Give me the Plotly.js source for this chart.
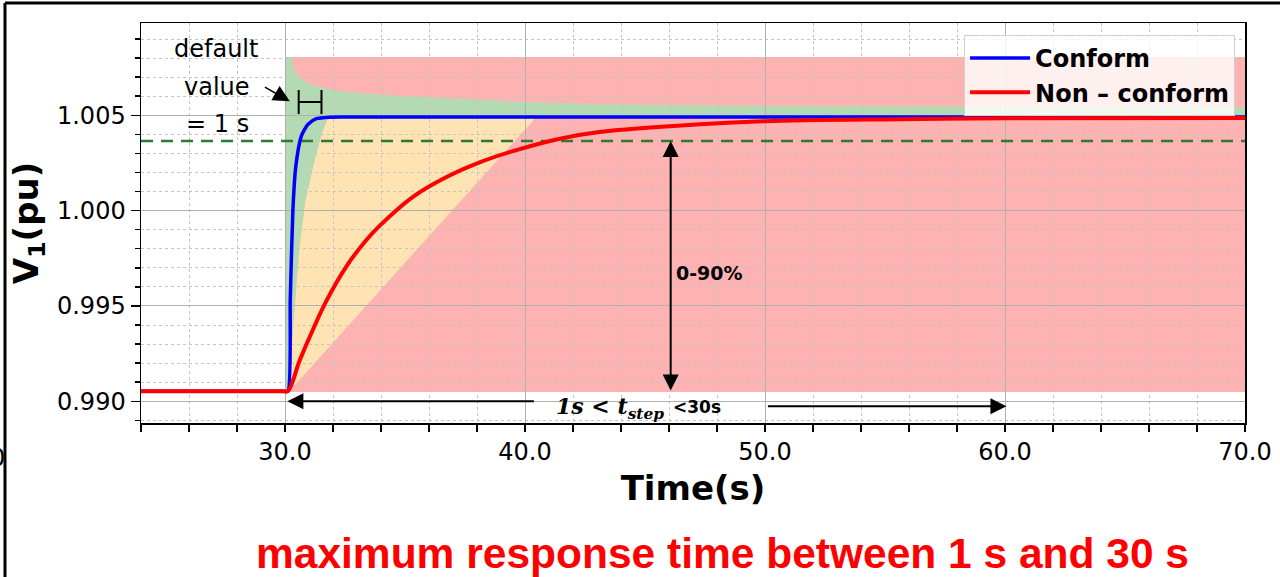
<!DOCTYPE html>
<html><head><meta charset="utf-8">
<script src="https://cdn.plot.ly/plotly-3.0.1.min.js"></script>
<style>html,body{margin:0;padding:0;background:#fff;} #chart{width:1280px;height:577px;}</style>
</head><body><div id="chart"></div>
<script>
// ---------------- data ----------------
const conformTime = [24, 29.9, 30.12, 30.22, 30.33, 30.45, 30.68, 30.96, 31.31, 31.86, 32.5, 70];
const conformV    = [0.99053, 0.99053, 0.99053, 0.99540, 1.00005, 1.00233, 1.00391, 1.00453, 1.00482, 1.00490, 1.00491, 1.00491];

const nonConformTime = [24, 29.9, 30.12, 30.61, 31.17, 31.73, 32.56, 33.39, 33.95, 35.33, 36.73, 38.11, 39.5, 41.45, 43.1, 47.3, 50, 55.6, 60, 70];
const nonConformV    = [0.99053, 0.99053, 0.99053, 0.99214, 0.99378, 0.99528, 0.99708, 0.99846, 0.99921, 1.00072, 1.00176, 1.00253, 1.00312, 1.00377, 1.00412, 1.00453, 1.00469, 1.00479, 1.00484, 1.00486];

const threshold90 = 1.00365;          // 90 % level (dashed line)
const thresholdTime = [24, 70];

const zoneTime = [30, 70];            // coloured zones
const zoneV = [0.99049, 1.00806];
const finalV = 1.00488;

// red / green boundary (upper curve)
const greenUpperTime = [30.27, 30.3, 30.35, 30.45, 30.61, 30.9, 31.31, 32.0, 32.7, 35.5, 40, 43.1, 50, 60, 70];
const greenUpperV    = [1.00806, 1.0078, 1.00753, 1.00725, 1.00700, 1.00672, 1.00653, 1.00632, 1.00620, 1.00596, 1.00570, 1.00558, 1.00550, 1.00546, 1.00544];
// green / orange boundary (top to bottom)
const greenLowerTime = [31.8, 31.55, 31.25, 30.85, 30.6, 30.35, 30.15];
const greenLowerV    = [1.00488, 1.0041, 1.0027, 1.0005, 0.998, 0.994, 0.99049];
// orange / red boundary corner
const orangeCornerTime = 40.45;

// annotation geometry (data units)
const bracketTime = [30.57, 31.52];
const bracketV = 1.0057;
const span090Time = 46.07;
const stepArrowV = [0.99, 0.98974];
const stepArrowTime = [[40.43, 30.1], [50.06, 60.06]];

// ---------------- helpers ----------------
function pathOf(xs, ys){
  return 'M' + xs.map((x,i)=> x + ',' + ys[i]).join('L') + 'Z';
}
const greenX = [zoneTime[0], zoneTime[0]].concat(greenUpperTime, [zoneTime[1]], greenLowerTime);
const greenY = [zoneV[0], zoneV[1]].concat(greenUpperV, [finalV], greenLowerV);
const orangeX = greenLowerTime.slice().reverse().concat([orangeCornerTime]);
const orangeY = greenLowerV.slice().reverse().concat([finalV]);

const FONT = 'DejaVu Sans';

const traces = [
  {x: thresholdTime, y: [threshold90, threshold90], mode:'lines', showlegend:false, hoverinfo:'skip',
   line:{color:'#2f7a33', width:2.5, dash:'12px,8px'}},
  {x: [(bracketTime[0]+bracketTime[1])/2], y:[bracketV], mode:'markers', showlegend:false, hoverinfo:'skip',
   marker:{size:1, opacity:0},
   error_x:{type:'constant', value:(bracketTime[1]-bracketTime[0])/2, width:12, thickness:2, color:'#000'}},
  {x: conformTime, y: conformV, mode:'lines', name:'Conform', legendgroup:'a',
   line:{color:'#0000ff', width:3.5, shape:'spline', smoothing:0.6}},
  {x: nonConformTime, y: nonConformV, mode:'lines', name:'Non \u2013 conform', legendgroup:'b',
   line:{color:'#ff0000', width:4, shape:'spline', smoothing:1}}
];

const shapes = [
  {type:'rect', xref:'x', yref:'y', x0:zoneTime[0], x1:zoneTime[1], y0:zoneV[0], y1:zoneV[1], fillcolor:'#ffb2b2', line:{width:0}, layer:'below'},
  {type:'path', xref:'x', yref:'y', path:pathOf(greenX, greenY), fillcolor:'#b3dab3', line:{width:0}, layer:'below'},
  {type:'path', xref:'x', yref:'y', path:pathOf(orangeX, orangeY), fillcolor:'#ffe3b2', line:{width:0}, layer:'below'},
  // outer frame
  {type:'line', xref:'paper', yref:'paper', x0:-0.1232, x1:1.04, y0:1.05, y1:1.05, line:{color:'#000', width:3}},
  {type:'line', xref:'paper', yref:'paper', x0:-0.1232, x1:-0.1232, y0:1.05, y1:-0.40, line:{color:'#000', width:3}}
];

const annotations = [
  {xref:'x', yref:'y', x:27.11, y:1.00846, text:'default', showarrow:false, font:{family:FONT, size:24, color:'#000'}},
  {xref:'x', yref:'y', x:27.15, y:1.00647, text:'value', showarrow:false, font:{family:FONT, size:24, color:'#000'}},
  {xref:'x', yref:'y', x:27.2, y:1.00453, text:'= 1 s', showarrow:false, font:{family:FONT, size:24, color:'#000'}},
  {xref:'x', yref:'y', axref:'x', ayref:'y', x:30.2, y:1.00573, ax:29.1, ay:1.00652, text:'', showarrow:true,
   arrowhead:2, arrowsize:2.2, arrowwidth:1.5, arrowcolor:'#000', standoff:0, startstandoff:0},
  // 0-90 % double arrow
  {xref:'x', yref:'y', axref:'x', ayref:'y', x:span090Time, y:threshold90, ax:span090Time, ay:zoneV[0], text:'', showarrow:true,
   arrowhead:2, startarrowhead:2, arrowside:'end+start', arrowsize:1.6, startarrowsize:1.6, arrowwidth:2, arrowcolor:'#000', standoff:0, startstandoff:0},
  {xref:'x', yref:'y', x:46.2, y:0.99671, xanchor:'left', text:'<b>0-90%</b>', showarrow:false, font:{family:FONT, size:19, color:'#000'}},
  // step time arrows
  {xref:'x', yref:'y', axref:'x', ayref:'y', x:stepArrowTime[0][1], y:stepArrowV[0], ax:stepArrowTime[0][0], ay:stepArrowV[0], text:'', showarrow:true,
   arrowhead:2, arrowsize:1.6, arrowwidth:2, arrowcolor:'#000', standoff:0},
  {xref:'x', yref:'y', axref:'x', ayref:'y', x:stepArrowTime[1][1], y:stepArrowV[1], ax:stepArrowTime[1][0], ay:stepArrowV[1], text:'', showarrow:true,
   arrowhead:2, arrowsize:1.6, arrowwidth:2, arrowcolor:'#000', standoff:0},
  {xref:'x', yref:'y', x:41.22, y:0.98965, xanchor:'left', showarrow:false,
   text:'<b><i>1s</i> &lt; <i>t<sub>step</sub></i></b>', font:{family:'DejaVu Serif', size:22, color:'#000'}},
  {xref:'x', yref:'y', x:46.08, y:0.98969, xanchor:'left', showarrow:false,
   text:'<b>&lt;30s</b>', font:{family:FONT, size:17, color:'#000'}},
  // clipped tick label at far left
  {xref:'paper', yref:'paper', x:-0.1214, y:-0.0875, xanchor:'right', yanchor:'middle', text:'0', showarrow:false, font:{family:FONT, size:24, color:'#000'}},
  // bottom caption
  {xref:'paper', yref:'paper', x:0.5263, y:-0.325, xanchor:'center', yanchor:'middle', showarrow:false,
   text:'<b>maximum response time between 1 s and 30 s</b>', font:{family:'Liberation Sans', size:42.5, color:'#ff0000'}}
];

const layout = {
  width:1280, height:577,
  margin:{l:141, r:35, t:23, b:154, pad:0},
  paper_bgcolor:'#fff', plot_bgcolor:'#fff',
  font:{family:FONT, size:24, color:'#000'},
  showlegend:true,
  legend:{x:0.991, y:0.97, xanchor:'right', yanchor:'top', bgcolor:'rgba(255,255,255,0.8)', bordercolor:'#d0d0d0', borderwidth:1,
          tracegroupgap:0, itemwidth:60, font:{family:FONT, size:24, weight:'bold', color:'#000'}},
  xaxis:{range:[24,70], tickmode:'linear', tick0:0, dtick:10, tickformat:'.1f', ticks:'outside', ticklen:7, tickwidth:1.5, tickcolor:'#000',
         showline:true, linecolor:'#000', linewidth:1.5, mirror:true, showgrid:true, gridcolor:'#b0b0b0', gridwidth:1, zeroline:false,
         tickfont:{family:FONT, size:24, color:'#000'},
         title:{text:'Time(s)', font:{family:FONT, size:34, weight:'bold', color:'#000'}, standoff:11},
         minor:{tick0:0, dtick:2, ticks:'outside', ticklen:7, tickwidth:1.5, tickcolor:'#000', showgrid:true, gridcolor:'#c4c4c4', griddash:'dot', gridwidth:1}},
  yaxis:{range:[0.98886, 1.00984], tickmode:'linear', tick0:0.99, dtick:0.005, tickformat:'.3f', ticks:'outside', ticklen:9, tickwidth:1.5, tickcolor:'#000',
         showline:true, linecolor:'#000', linewidth:1.5, mirror:true, showgrid:true, gridcolor:'#b0b0b0', gridwidth:1, zeroline:false,
         tickfont:{family:FONT, size:24, color:'#000'},
         title:{text:'V<sub>1</sub>(pu)', font:{family:FONT, size:34, weight:'bold', color:'#000'}, standoff:8},
         minor:{tick0:0.99, dtick:0.001, ticks:'outside', ticklen:5, tickwidth:1.5, tickcolor:'#000', showgrid:true, gridcolor:'#c4c4c4', griddash:'dot', gridwidth:1}},
  shapes: shapes,
  annotations: annotations
};

Plotly.newPlot('chart', traces, layout, {staticPlot:true, displayModeBar:false});
</script></body></html>
